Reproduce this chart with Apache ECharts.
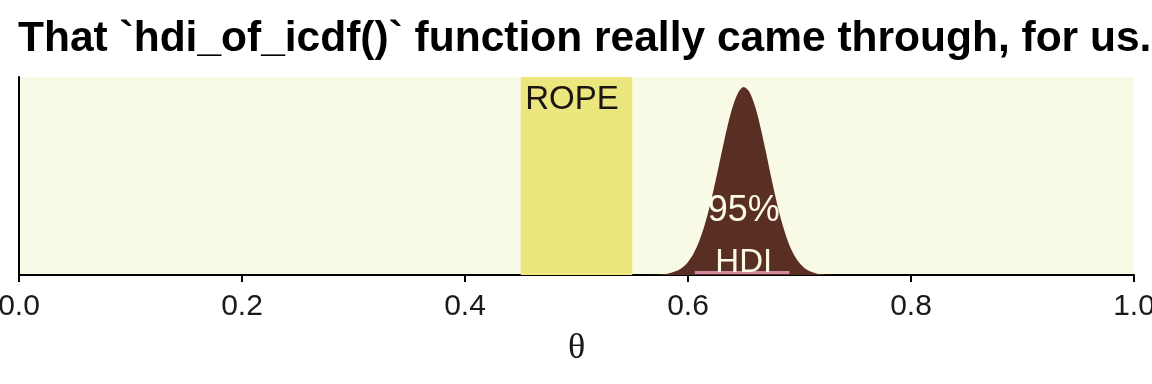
<!DOCTYPE html>
<html>
<head>
<meta charset="utf-8">
<script src="https://cdn.jsdelivr.net/npm/echarts@6/dist/echarts.min.js"></script>
<style>
html,body{margin:0;padding:0;background:#ffffff;}
#chart{width:1152px;height:384px;}
</style>
</head>
<body>
<div id="chart"></div>
<script>
// --- data ---
var titleText = "That `hdi_of_icdf()` function really came through, for us.";
var xLabel = "\u03B8";
var xTicks = [0, 0.2, 0.4, 0.6, 0.8, 1.0];
var ropeRange = [0.45, 0.55];
var hdiRange = [0.606, 0.691];
var thetaGrid = [0.560,0.565,0.570,0.575,0.580,0.585,0.590,0.595,0.600,0.605,0.610,0.615,0.620,0.625,0.630,0.635,0.640,0.645,0.650,0.655,0.660,0.665,0.670,0.675,0.680,0.685,0.690,0.695,0.700,0.705,0.710,0.715,0.720,0.725,0.730,0.735];
var density   = [0.00,0.01,0.02,0.05,0.10,0.21,0.41,0.74,1.29,2.13,3.33,4.96,7.02,9.42,12.0,14.5,16.6,18.0,18.56,18.1,16.7,14.6,12.1,9.45,6.98,4.88,3.22,2.01,1.18,0.65,0.34,0.16,0.07,0.03,0.01,0.00];
var yMax = 19.55;
var labelTexts = ["ROPE", "95%", "HDI"];
var labelPos = [[0.496, 17.25], [0.65, 6.3], [0.65, 1.15]];

var curve = thetaGrid.map(function (x, i) { return [x, density[i]]; });

var chart = echarts.init(document.getElementById('chart'), null, {renderer: 'canvas'});
var bg = '#F9FAE6';
var option = {
  animation: false,
  backgroundColor: '#ffffff',
  title: {
    text: titleText,
    left: 18, top: 18, padding: 0,
    textStyle: {fontFamily: 'Liberation Sans, Arial, sans-serif', fontWeight: 'bold', fontSize: 42.5, color: '#000000', lineHeight: 42}
  },
  grid: {left: 19, right: 18, top: 77, bottom: 109, show: true, backgroundColor: bg, borderWidth: 0,
    containLabel: false, outerBoundsMode: 'none'},
  xAxis: {
    type: 'value', min: 0, max: 1, interval: 0.2,
    name: xLabel, nameLocation: 'middle', nameGap: 56,
    nameTextStyle: {fontFamily: 'Liberation Serif, Times New Roman, serif', fontSize: 36, color: '#1a1a1a'},
    axisLine: {show: true, onZero: false, lineStyle: {color: '#000000', width: 2}},
    axisTick: {show: true, length: 7, lineStyle: {color: '#000000', width: 2}},
    axisLabel: {fontFamily: 'Liberation Sans, Arial, sans-serif', fontSize: 30, color: '#1a1a1a', margin: 17,
      hideOverlap: false,
      formatter: function (v) { return v.toFixed(1); }},
    splitLine: {show: false}
  },
  yAxis: {
    type: 'value', min: 0, max: yMax,
    axisLine: {show: true, lineStyle: {color: '#000000', width: 2}},
    axisTick: {show: false}, axisLabel: {show: false}, splitLine: {show: false}
  },
  series: [
    {
      type: 'line', data: curve, smooth: 0.3, showSymbol: false, silent: true, z: 3,
      lineStyle: {width: 0, color: '#5A2F23'},
      areaStyle: {color: '#5A2F23', opacity: 1},
      markArea: {
        silent: true,
        itemStyle: {color: '#EBE67D', opacity: 1},
        data: [[{xAxis: ropeRange[0]}, {xAxis: ropeRange[1]}]]
      }
    },
    {
      type: 'line', data: [[hdiRange[0], 0.25], [hdiRange[1], 0.25]], showSymbol: false, silent: true, z: 4,
      lineStyle: {width: 3, color: '#D2899F'}
    },
    {
      type: 'scatter', silent: true, z: 5, symbolSize: 1,
      itemStyle: {color: 'rgba(0,0,0,0)', opacity: 1},
      labelLayout: {hideOverlap: false},
      data: labelPos.map(function (p, i) {
        return {value: p, label: {show: true, position: 'inside', formatter: labelTexts[i],
          fontFamily: 'Liberation Sans, Arial, sans-serif',
          fontSize: i === 1 ? 36 : 33, opacity: 1,
          color: i === 0 ? '#1A1510' : '#FCFAE4'}};
      })
    }
  ]
};
chart.setOption(option);
</script>
</body>
</html>
